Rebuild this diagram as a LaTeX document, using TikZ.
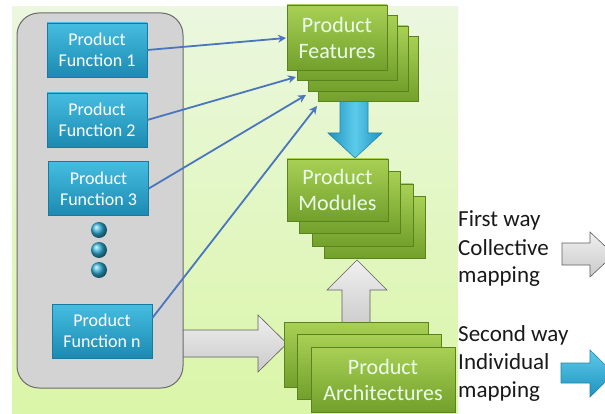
\documentclass[tikz,border=0pt]{standalone}
\usepackage{fontspec}
\setmainfont{Carlito}
\usetikzlibrary{arrows.meta}
\definecolor{bgtop}{HTML}{EBF7DF}
\definecolor{bgbot}{HTML}{DAF6A8}
\definecolor{pftop}{HTML}{45BDE0}
\definecolor{pfbot}{HTML}{1C8AB2}
\definecolor{pfborder}{HTML}{177A9E}
\definecolor{gtop}{HTML}{A8D055}
\definecolor{gbot}{HTML}{72A02B}
\definecolor{gborder}{HTML}{5A8320}
\definecolor{linkblue}{HTML}{4A76BE}
\definecolor{btop}{HTML}{5CCBEB}
\definecolor{bbot}{HTML}{1F93BD}
\definecolor{bborder}{HTML}{2585A8}
\definecolor{contfill}{HTML}{D3D3D3}
\definecolor{contborder}{HTML}{6B6B6B}
\definecolor{dotcol}{HTML}{2FB0D8}
\begin{document}
\begin{tikzpicture}[x=1pt,y=-1pt,
  pfbox/.style={draw=pfborder, top color=pftop, bottom color=pfbot, text=white,
    font=\fontsize{18}{21}\selectfont, align=center, minimum width=100pt,
    minimum height=54pt, inner sep=0pt, line width=0.6pt},
  gbox/.style={draw=gborder, top color=gtop, bottom color=gbot, text=white!92!green,
    font=\fontsize{22}{26}\selectfont, align=center, inner sep=0pt, line width=0.7pt},
  link/.style={draw=linkblue, line width=1.8pt, -{Stealth[length=8pt,width=8pt]}},
  grayarrow/.style={draw=gray!75!black, top color=gray!12, bottom color=gray!42, line width=0.6pt},
  blueright/.style={draw=bborder, top color=btop, bottom color=bbot, line width=0.6pt},
  bluedown/.style={draw=bborder, left color=bbot, right color=bbot, middle color=btop, line width=0.6pt},
  dot/.style={circle, ball color=dotcol, minimum size=16pt, inner sep=0pt},
  label/.style={font=\fontsize{23}{28}\selectfont, text=black!90, anchor=base west, inner sep=0pt}
]
\useasboundingbox (0,0) rectangle (605,414);
\clip (0,0) rectangle (605,414);
\fill[white] (0,0) rectangle (605,414);
% background panel
\shade[top color=bgtop, bottom color=bgbot] (12,7) rectangle (458,414);

% left gray arrow (behind container)
\path[grayarrow] (178,330) -- (258,330) -- (258,315) -- (287,343.5) -- (258,372) -- (258,357) -- (178,357) -- cycle;

% container
\node[draw=contborder, fill=contfill, line width=1pt, rounded corners=22pt,
  minimum width=166pt, minimum height=375pt, inner sep=0pt] (cont) at (100,200.5) {};

% product function boxes
\node[pfbox] (pf1) at (97,50) {Product\\Function 1};
\node[pfbox] (pf2) at (97,120) {Product\\Function 2};
\node[pfbox] (pf3) at (98.5,188.5) {Product\\Function 3};
\node[pfbox] (pfn) at (102,331) {Product\\Function n};
\node[dot] (d1) at (99,230) {};
\node[dot] (d2) at (99,250) {};
\node[dot] (d3) at (99,270) {};

% blue down arrow (features -> modules)
\path[bluedown] (340,95) -- (368,95) -- (368,133) -- (382,133) -- (355,158) -- (328,133) -- (340,133) -- cycle;

% gray up arrow (architectures -> modules)
\path[grayarrow] (342,330) -- (342,290) -- (327,290) -- (357,260) -- (387,290) -- (370,290) -- (370,330) -- cycle;

% product features stack
\node[gbox, minimum width=100pt, minimum height=65pt] (feat3) at (368.5,69) {};
\node[gbox, minimum width=100pt, minimum height=65pt] (feat2) at (358,58.5) {};
\node[gbox, minimum width=100pt, minimum height=65pt] (feat1) at (347.5,48) {};
\node[gbox, minimum width=100pt, minimum height=65pt] (feat) at (337,37.5) {Product\\Features};

% product modules stack
\node[gbox, minimum width=101pt, minimum height=62pt] (mod3) at (375,227.5) {};
\node[gbox, minimum width=101pt, minimum height=62pt] (mod2) at (362.5,215) {};
\node[gbox, minimum width=101pt, minimum height=62pt] (mod1) at (350,202.5) {};
\node[gbox, minimum width=101pt, minimum height=62pt] (mod) at (337.5,190) {Product\\Modules};

% product architectures stack
\node[gbox, minimum width=144pt, minimum height=65pt] (arch2) at (356,354.5) {};
\node[gbox, minimum width=144pt, minimum height=65pt] (arch1) at (369.5,366.5) {};
\node[gbox, minimum width=144pt, minimum height=65pt] (arch) at (383,379.5) {Product\\Architectures};

% thin blue links
\coordinate (t1) at (286,38);
\coordinate (t2) at (296,77);
\coordinate (t3) at (306,95);
\coordinate (t4) at (317,106);
\draw[link] (pf1.east) -- (t1);
\draw[link] (pf2.east) -- (t2);
\draw[link] (pf3.east) -- (t3);
\draw[link] ([yshift=13pt]pfn.east) -- (t4);

% right-hand legend
\node[label] (l1) at (458,227) {First way};
\node[label] (l2) at (458,255) {Collective};
\node[label] (l3) at (458,282) {mapping};
\node[label] (l4) at (458,341) {Second way};
\node[label] (l5) at (458,369) {Individual};
\node[label] (l6) at (458,397) {mapping};
\path[grayarrow] (562,243) -- (590,243) -- (590,232) -- (614,254.5) -- (590,277) -- (590,265) -- (562,265) -- cycle;
\path[blueright] (561,363) -- (590,363) -- (590,350) -- (614,373.5) -- (590,397) -- (590,383) -- (561,383) -- cycle;
\end{tikzpicture}
\end{document}
